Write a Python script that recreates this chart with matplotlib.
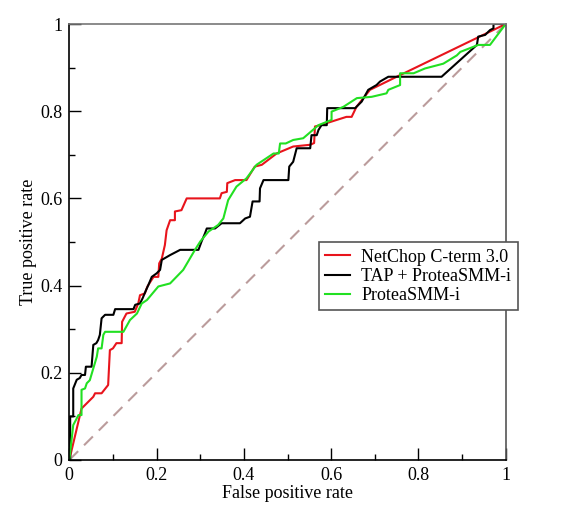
import matplotlib
matplotlib.use("Agg")
import matplotlib.pyplot as plt
from matplotlib.ticker import MultipleLocator

plt.rcParams['font.family'] = ['Liberation Serif', 'DejaVu Serif']

# NetChop C-term 3.0
netchop_fpr = [0, 0.028, 0.055, 0.059, 0.074, 0.089, 0.093, 0.100, 0.108, 0.120, 0.121,
               0.131, 0.150, 0.158, 0.162, 0.173, 0.179, 0.186, 0.193, 0.204, 0.206,
               0.212, 0.219, 0.223, 0.231, 0.242, 0.242, 0.257, 0.269, 0.345, 0.349,
               0.361, 0.362, 0.380, 0.406, 0.425, 0.441, 0.475, 0.513, 0.552, 0.561,
               0.563, 0.575, 0.635, 0.647, 0.658, 0.689, 0.742, 1.0]
netchop_tpr = [0, 0.118, 0.145, 0.153, 0.153, 0.172, 0.252, 0.256, 0.268, 0.268, 0.317,
               0.336, 0.340, 0.359, 0.378, 0.382, 0.398, 0.409, 0.420, 0.420, 0.451,
               0.462, 0.493, 0.527, 0.550, 0.550, 0.570, 0.573, 0.600, 0.600, 0.612,
               0.615, 0.635, 0.642, 0.642, 0.673, 0.677, 0.703, 0.719, 0.723, 0.727,
               0.765, 0.768, 0.787, 0.787, 0.810, 0.849, 0.875, 1.0]

# TAP + ProteaSMM-i
tap_fpr = [0, 0.002, 0.002, 0.009, 0.009, 0.017, 0.024, 0.028, 0.036, 0.038, 0.051,
           0.055, 0.062, 0.066, 0.070, 0.074, 0.082, 0.101, 0.105, 0.147, 0.151,
           0.162, 0.168, 0.176, 0.181, 0.189, 0.200, 0.208, 0.212, 0.231, 0.254,
           0.296, 0.303, 0.311, 0.315, 0.334, 0.349, 0.391, 0.403, 0.414, 0.420,
           0.436, 0.437, 0.445, 0.502, 0.504, 0.513, 0.521, 0.552, 0.555, 0.567,
           0.571, 0.578, 0.590, 0.591, 0.655, 0.670, 0.685, 0.704, 0.712, 0.731,
           0.853, 0.934, 0.937, 0.953, 0.964, 0.972, 0.972, 1.0]
tap_tpr = [0, 0.0, 0.100, 0.100, 0.164, 0.184, 0.188, 0.195, 0.195, 0.214, 0.214,
           0.264, 0.268, 0.275, 0.287, 0.325, 0.333, 0.333, 0.346, 0.346, 0.356,
           0.359, 0.371, 0.390, 0.401, 0.420, 0.428, 0.436, 0.459, 0.470, 0.482,
           0.482, 0.501, 0.520, 0.531, 0.531, 0.543, 0.543, 0.554, 0.558, 0.593,
           0.593, 0.623, 0.642, 0.642, 0.673, 0.684, 0.715, 0.715, 0.745, 0.745,
           0.757, 0.768, 0.768, 0.807, 0.807, 0.822, 0.849, 0.860, 0.868, 0.879,
           0.879, 0.952, 0.971, 0.975, 0.986, 0.990, 1.0, 1.0]

# ProteaSMM-i
smm_fpr = [0, 0.009, 0.021, 0.028, 0.028, 0.036, 0.040, 0.047, 0.055, 0.063, 0.066,
           0.074, 0.078, 0.082, 0.124, 0.139, 0.155, 0.166, 0.178, 0.204, 0.231,
           0.261, 0.288, 0.300, 0.319, 0.341, 0.353, 0.364, 0.383, 0.406, 0.429,
           0.468, 0.480, 0.483, 0.496, 0.513, 0.536, 0.571, 0.601, 0.601, 0.628,
           0.659, 0.693, 0.727, 0.731, 0.758, 0.758, 0.789, 0.815, 0.857, 0.888,
           0.896, 0.937, 0.964, 1.0]
smm_tpr = [0, 0.080, 0.103, 0.103, 0.161, 0.164, 0.176, 0.183, 0.210, 0.237, 0.256,
           0.256, 0.287, 0.294, 0.294, 0.321, 0.336, 0.359, 0.367, 0.398, 0.405,
           0.436, 0.482, 0.501, 0.524, 0.539, 0.554, 0.596, 0.627, 0.646, 0.677,
           0.703, 0.703, 0.726, 0.726, 0.734, 0.738, 0.768, 0.780, 0.799, 0.810,
           0.830, 0.833, 0.841, 0.849, 0.860, 0.887, 0.887, 0.898, 0.909, 0.928,
           0.936, 0.952, 0.952, 1.0]

tick_vals = [0, 0.2, 0.4, 0.6, 0.8, 1]
tick_labels = ['0', '0.2', '0.4', '0.6', '0.8', '1']

fig = plt.figure(figsize=(5.69, 5.14), dpi=100)
ax = fig.add_axes([69.3 / 569, 54 / 514, 436.4 / 569, 436 / 514])

ax.plot([0, 1], [0, 1], color='#bb9c9c', lw=1.5, dashes=(6, 4))
ax.plot(netchop_fpr, netchop_tpr, color='#e8141c', lw=1.5, label='NetChop C-term 3.0')
ax.plot(tap_fpr, tap_tpr, color='black', lw=1.5, label='TAP + ProteaSMM-i')
ax.plot(smm_fpr, smm_tpr, color='#22e022', lw=1.5, label='ProteaSMM-i')

ax.set_xlim(0, 1)
ax.set_ylim(0, 1)
ax.set_xticks(tick_vals)
ax.set_xticklabels(tick_labels)
ax.set_yticks(tick_vals)
ax.set_yticklabels(tick_labels)
ax.xaxis.set_minor_locator(MultipleLocator(0.1))
ax.yaxis.set_minor_locator(MultipleLocator(0.1))
ax.tick_params(which='major', direction='in', length=8.5, width=1, labelsize=13, pad=5)
ax.tick_params(which='minor', direction='in', length=4.5, width=1)
for s in ax.spines.values():
    s.set_linewidth(1.2)
ax.spines['top'].set_color('#777777')
ax.spines['right'].set_color('#555555')

ax.set_xlabel('False positive rate', fontsize=13, labelpad=1)
ax.set_ylabel('True positive rate', fontsize=13, labelpad=2)

leg = ax.legend(loc='upper left', bbox_to_anchor=(0.572, 0.499),
                fontsize=13, fancybox=False, framealpha=1,
                edgecolor='#555555', handlelength=1.35, borderpad=0.35,
                labelspacing=0.12, handletextpad=0.65, borderaxespad=0)
leg.get_frame().set_linewidth(1.2)

fig.savefig('out.png', dpi=100)
